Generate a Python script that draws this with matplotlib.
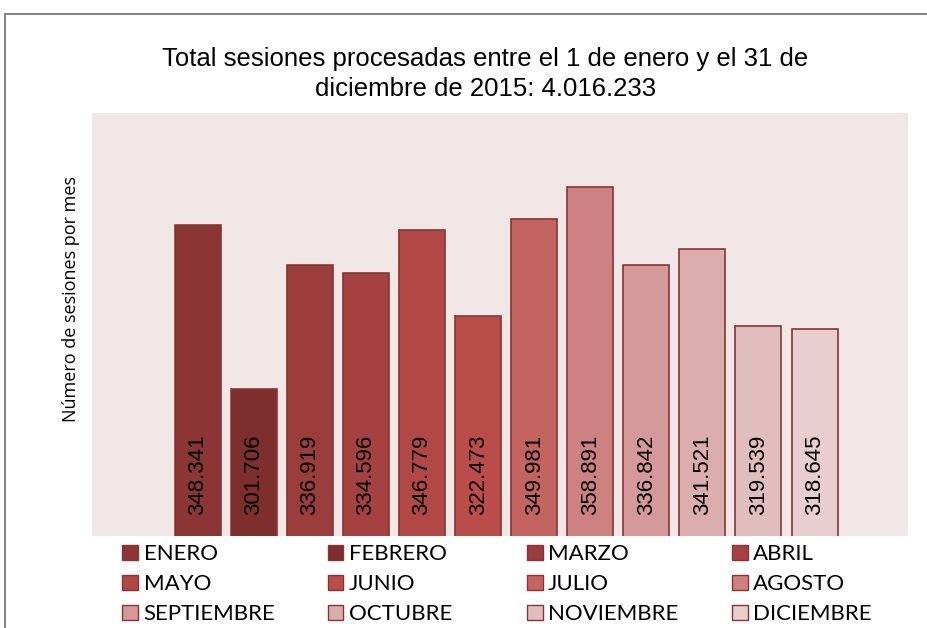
import matplotlib.pyplot as plt
from matplotlib.patches import Patch
from matplotlib.lines import Line2D

meses = ['ENERO', 'FEBRERO', 'MARZO', 'ABRIL', 'MAYO', 'JUNIO', 'JULIO',
         'AGOSTO', 'SEPTIEMBRE', 'OCTUBRE', 'NOVIEMBRE', 'DICIEMBRE']
sesiones = [348341, 301706, 336919, 334596, 346779, 322473, 349981,
            358891, 336842, 341521, 319539, 318645]
colores = ['#8B3535', '#7F2E2E', '#9A3D3B', '#A54241', '#B14846', '#BA4C4A',
           '#C46460', '#CD8281', '#D49998', '#DBADAC', '#E1BEBE', '#E8CECE']

titulo = 'Total sesiones procesadas entre el 1 de enero y el 31 de\ndiciembre de 2015: 4.016.233'
ylabel = 'Número de sesiones por mes'

fig = plt.figure(figsize=(9.28, 6.28), dpi=100)
ax = fig.add_axes([0.099, 0.1465, 0.879, 0.6735])
ax.set_facecolor('#F2E7E7')

x = list(range(len(meses)))
bars = ax.bar(x, sesiones, width=0.82, color=colores, edgecolor='#8B3333',
              linewidth=1.2)
ax.set_ylim(260000, 380000)
ax.set_xlim(-1.89, 12.66)

for xi, v in zip(x, sesiones):
    ax.text(xi, 266000, f'{v:,}'.replace(',', '.'), rotation=90,
            ha='center', va='bottom', fontsize=16, family='Liberation Sans')

ax.set_xticks([])
ax.set_yticks([])
for s in ax.spines.values():
    s.set_visible(False)

fig.text(0.523, 0.882, titulo, ha='center', va='center', fontsize=18.5,
         family='Liberation Sans', linespacing=1.3)
fig.text(0.076, 0.524, ylabel, rotation=90, ha='center', va='center',
         fontsize=13, family='Open Sans')

# borde gris del recuadro
fig.add_artist(Line2D([0.0055, 0.0055], [0, 0.978], transform=fig.transFigure,
                      color='#868686', lw=1.5))
fig.add_artist(Line2D([0.0055, 1], [0.978, 0.978], transform=fig.transFigure,
                      color='#868686', lw=1.5))

# leyenda en 4 columnas, orden por filas
col_x = [0.132, 0.353, 0.568, 0.789]
for c, cx in enumerate(col_x):
    idx = [r * 4 + c for r in range(3)]
    hs = [Patch(facecolor=colores[i], edgecolor='#8B3333', linewidth=1) for i in idx]
    leg = fig.legend(hs, [meses[i] for i in idx], loc='upper left',
                     bbox_to_anchor=(cx, 0.133), frameon=False,
                     prop={'family': 'Lato', 'size': 16},
                     handlelength=0.7, handleheight=0.7, handletextpad=0.25,
                     labelspacing=0.45, borderaxespad=0, borderpad=0)

fig.savefig('out.png', dpi=100)
